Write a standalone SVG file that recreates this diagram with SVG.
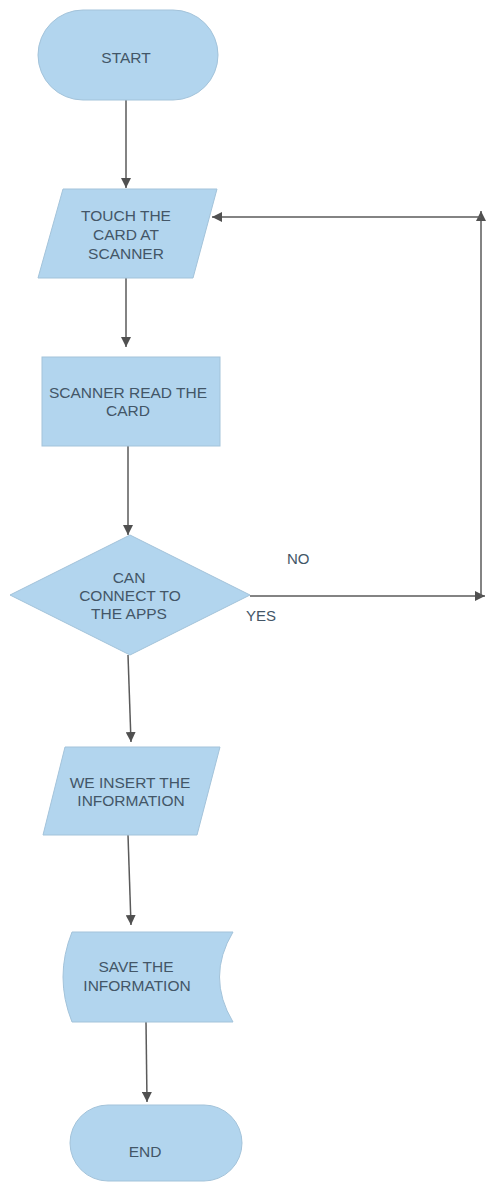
<svg xmlns="http://www.w3.org/2000/svg" width="486" height="1190" viewBox="0 0 486 1190">
<defs>
<marker id="ah" viewBox="0 0 10 10" refX="10" refY="5" markerWidth="10" markerHeight="10" markerUnits="userSpaceOnUse" orient="auto">
<path d="M0,0 L10,5 L0,10 z" fill="#505050"/>
</marker>
<style>
.shape{fill:#b2d5ee;stroke:#a3c3da;stroke-width:1}
.t{font-family:"Liberation Sans",Arial,sans-serif;font-size:15.5px;fill:#435667;text-anchor:middle}
.lbl{font-family:"Liberation Sans",Arial,sans-serif;font-size:15px;fill:#435667}
.c{stroke:#5a5a5a;stroke-width:1.5;fill:none;marker-end:url(#ah)}
</style>
</defs>
<rect width="486" height="1190" fill="#ffffff"/>
<g id="connectors">
<line class="c" x1="126" y1="100" x2="126" y2="188"/>
<line class="c" x1="126" y1="278" x2="126" y2="347"/>
<line class="c" x1="128" y1="446" x2="128" y2="535"/>
<line class="c" x1="128" y1="655" x2="131" y2="742"/>
<line class="c" x1="128" y1="835" x2="131" y2="925"/>
<line class="c" x1="146" y1="1022" x2="147" y2="1102"/>
<line class="c" x1="250" y1="596" x2="485" y2="596"/>
<line class="c" x1="481" y1="597" x2="481" y2="211"/>
<line class="c" x1="481" y1="217" x2="212" y2="217"/>
<text class="lbl" x="287" y="564">NO</text>
<text class="lbl" x="246" y="621">YES</text>
</g>
<g id="start">
<rect class="shape" x="38" y="10" width="180" height="90" rx="45"/>
<text class="t" x="126" y="63">START</text>
</g>
<g id="touch">
<polygon class="shape" points="63,189 217,189 193,278 38,278"/>
<text class="t" x="126" y="221">TOUCH THE</text>
<text class="t" x="126" y="240">CARD AT</text>
<text class="t" x="126" y="259">SCANNER</text>
</g>
<g id="read">
<rect class="shape" x="42" y="357" width="178" height="89"/>
<text class="t" x="128" y="398">SCANNER READ THE</text>
<text class="t" x="128" y="416">CARD</text>
</g>
<g id="decision">
<polygon class="shape" points="130,535 250,595 130,655 10,595"/>
<text class="t" x="129" y="583">CAN</text>
<text class="t" x="130" y="601">CONNECT TO</text>
<text class="t" x="129" y="619">THE APPS</text>
</g>
<g id="insert">
<polygon class="shape" points="65,747 220,747 197,835 43,835"/>
<text class="t" x="130" y="788">WE INSERT THE</text>
<text class="t" x="131" y="806">INFORMATION</text>
</g>
<g id="save">
<path class="shape" d="M72,932 L233,932 Q206,977 233,1022 L72,1022 Q54,977 72,932 z"/>
<text class="t" x="136" y="972">SAVE THE</text>
<text class="t" x="137" y="991">INFORMATION</text>
</g>
<g id="end">
<rect class="shape" x="70" y="1105" width="172" height="76" rx="38"/>
<text class="t" x="145" y="1157">END</text>
</g>
</svg>
